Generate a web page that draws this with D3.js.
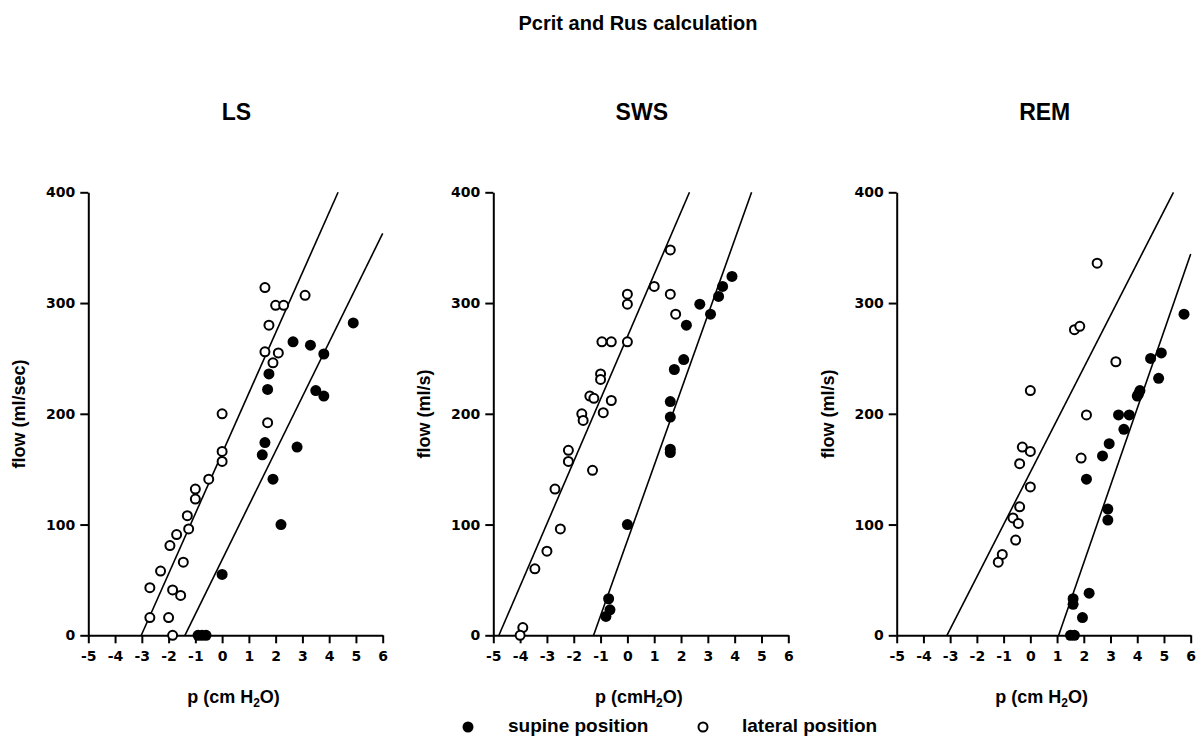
<!DOCTYPE html>
<html>
<head>
<meta charset="utf-8">
<script src="https://cdn.jsdelivr.net/npm/d3@7"></script>
<style>
  body { margin: 0; background: #fff; }
  text { fill: #000; }
</style>
</head>
<body>
<svg id="chart" width="1198" height="742"></svg>
<script>
// panels and axis texts
var panels = ["LS", "SWS", "REM"];
var yLabels = ["flow (ml/sec)", "flow (ml/s)", "flow (ml/s)"];
var xLabels = [["p (cm H", "O)"], ["p (cmH", "O)"], ["p (cm H", "O)"]];
var xTicks = [-5, -4, -3, -2, -1, 0, 1, 2, 3, 4, 5, 6];
var yTicks = [0, 100, 200, 300, 400];

// measured points [p, flow]
var lsSupine = [[4.9,282],[2.65,265],[3.3,262],[3.8,254],[1.75,236],[1.7,222],[3.5,221],[3.8,216],
  [1.6,174],[2.8,170],[1.5,163],[1.9,141],[2.2,100],[0,55],[-0.9,0],[-0.75,0],[-0.6,0]];
var lsLateral = [[1.6,314],[3.1,307],[2.0,298],[2.3,298],[1.75,280],[1.6,256],[2.1,255],[1.9,246],
  [0,200],[1.7,192],[0,166],[0,157],[-0.5,141],[-1.0,132],[-1.0,123],[-1.3,108],[-1.25,96],
  [-1.7,91],[-1.95,81],[-1.45,66],[-2.3,58],[-2.7,43],[-1.85,41],[-1.55,36],[-2.7,16],[-2.0,16],[-1.85,0]];

var swsSupine = [[3.9,324],[3.55,315],[3.4,306],[2.7,299],[3.1,290],[2.2,280],[2.1,249],[1.75,240],
  [1.6,211],[1.6,197],[1.6,168],[1.6,165],[0,100],[-0.7,33],[-0.65,23],[-0.8,17]];
var swsLateral = [[1.6,348],[1.0,315],[1.6,308],[0,308],[0,299],[1.8,290],[-0.95,265],[-0.6,265],
  [0,265],[-1.0,236],[-1.0,231],[-1.4,216],[-1.25,214],[-0.6,212],[-1.7,200],[-1.65,194],[-0.9,201],
  [-2.2,167],[-2.2,157],[-1.3,149],[-2.7,132],[-2.5,96],[-3.0,76],[-3.45,60],[-3.9,7],[-4.0,0]];

var remSupine = [[5.75,290],[4.9,255],[4.5,250],[4.8,232],[4.1,221],[4.0,216],[4.05,218],[3.3,199],
  [3.7,199],[3.5,186],[2.95,173],[2.7,162],[2.1,141],[2.9,114],[2.9,104],[2.2,38],[1.6,33],[1.6,28],
  [1.95,16],[1.5,0],[1.65,0]];
var remLateral = [[2.5,336],[1.65,276],[1.85,279],[3.2,247],[0,221],[2.1,199],[1.9,160],[-0.3,170],
  [0,166],[-0.4,155],[0,134],[-0.4,116],[-0.65,106],[-0.45,101],[-0.55,86],[-1.05,73],[-1.2,66]];

// regression lines: flow = slope * (p - pcrit)
var pcritSupine = [-1.39, -1.26, 1.06];
var slopeSupine = [49.1, 67.9, 69.7];
var pcritLateral = [-3.02, -4.79, -3.12];
var slopeLateral = [54.4, 56.3, 47.2];

var supineData = [lsSupine, swsSupine, remSupine];
var lateralData = [lsLateral, swsLateral, remLateral];

var svg = d3.select("#chart");
var titleFont = "'Liberation Sans', Arial, sans-serif";
var tickFont = "'DejaVu Sans', sans-serif";

svg.append("text")
  .attr("x", 638).attr("y", 30)
  .attr("text-anchor", "middle")
  .style("font-family", titleFont).style("font-weight", "bold").style("font-size", "20px")
  .text("Pcrit and Rus calculation");

var plotLeft = [88.3, 493.3, 896.7];
var plotRight = [382.7, 788.3, 1190.7];
var plotTop = 192.3, plotBottom = 635.3;

panels.forEach(function(name, i) {
  var x = d3.scaleLinear().domain([-5, 6]).range([plotLeft[i], plotRight[i]]);
  var y = d3.scaleLinear().domain([0, 400]).range([plotBottom, plotTop]);
  var g = svg.append("g");
  var mid = (plotLeft[i] + plotRight[i]) / 2;

  g.append("text")
    .attr("x", mid + 1).attr("y", 120)
    .attr("text-anchor", "middle")
    .style("font-family", titleFont).style("font-weight", "bold").style("font-size", "23px")
    .text(name);

  // axes
  var yAxis = g.append("g")
    .attr("transform", "translate(" + plotLeft[i] + ",0)")
    .call(d3.axisLeft(y).tickValues(yTicks).tickSize(8).tickPadding(5).tickSizeOuter(0));
  var xAxis = g.append("g")
    .attr("transform", "translate(0," + plotBottom + ")")
    .call(d3.axisBottom(x).tickValues(xTicks).tickSize(8).tickPadding(8).tickSizeOuter(0)
      .tickFormat(function(d) { return d < 0 ? "-" + Math.abs(d) : d; }));
  [xAxis, yAxis].forEach(function(a) {
    a.selectAll("path, line").attr("stroke", "#000").attr("stroke-width", 2);
    a.selectAll("text")
      .style("font-family", tickFont).style("font-weight", "bold").style("font-size", "14px")
      .attr("fill", "#000");
  });

  // axis titles
  g.append("text")
    .attr("transform", "translate(" + (plotLeft[i] - 63) + "," + 414 + ") rotate(-90)")
    .attr("text-anchor", "middle")
    .style("font-family", titleFont).style("font-weight", "bold").style("font-size", "18px")
    .text(yLabels[i]);

  var xl = g.append("text")
    .attr("x", mid - 2).attr("y", 703)
    .attr("text-anchor", "middle")
    .style("font-family", titleFont).style("font-weight", "bold").style("font-size", "18px");
  xl.append("tspan").text(xLabels[i][0]);
  xl.append("tspan").attr("dy", 4).style("font-size", "12px").text("2");
  xl.append("tspan").attr("dy", -4).text(xLabels[i][1]);

  // regression lines
  [[pcritLateral[i], slopeLateral[i]], [pcritSupine[i], slopeSupine[i]]].forEach(function(l) {
    var xEnd = Math.min(6, l[0] + 400 / l[1]);
    g.append("line")
      .attr("x1", x(l[0])).attr("y1", y(0))
      .attr("x2", x(xEnd)).attr("y2", y(l[1] * (xEnd - l[0])))
      .attr("stroke", "#000").attr("stroke-width", 1.6);
  });

  g.selectAll(".lat").data(lateralData[i]).enter().append("circle")
    .attr("cx", function(d) { return x(d[0]); })
    .attr("cy", function(d) { return y(d[1]); })
    .attr("r", 4.5)
    .attr("fill", "#fff").attr("stroke", "#000").attr("stroke-width", 2);

  g.selectAll(".sup").data(supineData[i]).enter().append("circle")
    .attr("cx", function(d) { return x(d[0]); })
    .attr("cy", function(d) { return y(d[1]); })
    .attr("r", 5.5)
    .attr("fill", "#000");
});

// legend
var legend = svg.append("g")
  .style("font-family", titleFont).style("font-weight", "bold").style("font-size", "19px");
legend.append("circle").attr("cx", 468).attr("cy", 727).attr("r", 5.5).attr("fill", "#000");
legend.append("text").attr("x", 508).attr("y", 732).text("supine position");
legend.append("circle").attr("cx", 703).attr("cy", 727).attr("r", 4.5)
  .attr("fill", "#fff").attr("stroke", "#000").attr("stroke-width", 2);
legend.append("text").attr("x", 742).attr("y", 732).text("lateral position");
</script>
</body>
</html>
